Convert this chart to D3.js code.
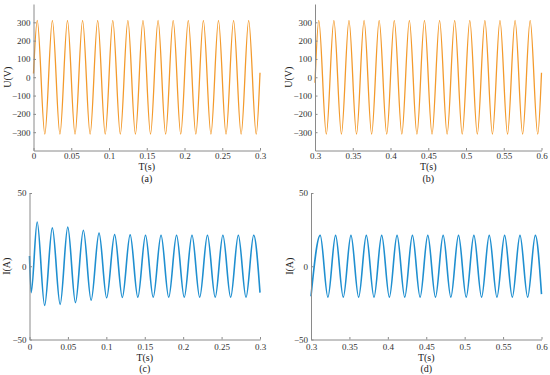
<!DOCTYPE html>
<html>
<head>
<meta charset="utf-8">
<script src="https://cdn.jsdelivr.net/npm/d3@7"></script>
<style>
  body { margin: 0; background: #fff; }
  svg { display: block; font-family: "Liberation Serif", "Times New Roman", serif; }
  .axis path, .axis line { stroke: #8a8a8a; }
  .axis text { fill: #333; font-size: 9px; font-family: "Liberation Serif", serif; }
  .lbl { fill: #222; font-size: 10px; }
</style>
</head>
<body>
<svg id="chart" width="550" height="375"></svg>
<script>
// voltage extrema (s, V) (a) and (b)
const uTimeA = [0, 0.005, 0.015, 0.025, 0.035, 0.045, 0.055, 0.065, 0.075, 0.085, 0.095, 0.105, 0.115, 0.125, 0.135, 0.145,
    0.155, 0.165, 0.175, 0.185, 0.195, 0.205, 0.215, 0.225, 0.235, 0.245, 0.255, 0.265, 0.275, 0.285, 0.295, 0.3];
const uValA = [20, 311, -311, 311, -311, 311, -311, 311, -311, 311, -311, 311, -311, 311, -311, 311,
    -311, 311, -311, 311, -311, 311, -311, 311, -311, 311, -311, 311, -311, 311, -311, 25];
const uTimeB = [0.3, 0.305, 0.315, 0.325, 0.335, 0.345, 0.355, 0.365, 0.375, 0.385, 0.395, 0.405, 0.415, 0.425, 0.435, 0.445,
    0.455, 0.465, 0.475, 0.485, 0.495, 0.505, 0.515, 0.525, 0.535, 0.545, 0.555, 0.565, 0.575, 0.585, 0.595, 0.6];
const uValB = [-30, 311, -311, 311, -311, 311, -311, 311, -311, 311, -311, 311, -311, 311, -311, 311,
    -311, 311, -311, 311, -311, 311, -311, 311, -311, 311, -311, 311, -311, 311, -311, 25];

// current extrema (s, A) (c) and (d)
const iTimeC = [0, 0.0022, 0.010, 0.0197, 0.0297, 0.0399, 0.0498, 0.0598, 0.0701, 0.0802, 0.0905, 0.1004, 0.1108, 0.1208, 0.131, 0.141,
    0.151, 0.161, 0.1712, 0.1812, 0.1914, 0.2014, 0.2115, 0.2215, 0.2316, 0.2417, 0.2517, 0.2618, 0.2718, 0.2818, 0.2918, 0.3];
const iValC = [7, -18, 30.2, -26.7, 26.2, -26, 26.7, -24.8, 24.6, -23.2, 22.6, -21.6, 21.6, -21.3, 21.4, -21.2,
    21.2, -21.2, 21.2, -21.2, 21.2, -21.2, 21.2, -21.2, 21.2, -21.2, 21.2, -21.2, 21.2, -21.2, 21.2, -18];
const iTimeD = [0.3, 0.312, 0.322, 0.332, 0.342, 0.352, 0.362, 0.372, 0.382, 0.392, 0.402, 0.412, 0.422, 0.432, 0.442, 0.452,
    0.462, 0.472, 0.482, 0.492, 0.502, 0.512, 0.522, 0.532, 0.542, 0.552, 0.562, 0.572, 0.582, 0.592, 0.6];
const iValD = [-20.5, 21.1, -21.1, 21.1, -21.1, 21.1, -21.1, 21.1, -21.1, 21.1, -21.1, 21.1, -21.1, 21.1, -21.1, 21.1,
    -21.1, 21.1, -21.1, 21.1, -21.1, 21.1, -21.1, 21.1, -21.1, 21.1, -21.1, 21.1, -21.1, 21.1, -19];

// ticks
const tTicksA = [0, 0.05, 0.1, 0.15, 0.2, 0.25, 0.3];
const tTicksB = [0.3, 0.35, 0.4, 0.45, 0.5, 0.55, 0.6];
const uTicks = [-300, -200, -100, 0, 100, 200, 300];
const iTicks = [-50, 0, 50];

const ORANGE = "#f39a2c";
const BLUE = "#1f8fd0";

// layout: plot box, then centre rows of tick labels / T(s) / tag below the axis
const panels = [
    { t: uTimeA, v: uValA, xd: [0, 0.3], yd: [-400, 400], xt: tTicksA, yt: uTicks, ylab: "U(V)", tag: "(a)", color: ORANGE,
      x0: 33.5, x1: 260, y0: 4, y1: 150.5, ylx: 7, tickY: 155.5, labY: 166.5, tagY: 178.5, lw: 1.3 },
    { t: uTimeB, v: uValB, xd: [0.3, 0.6], yd: [-400, 400], xt: tTicksB, yt: uTicks, ylab: "U(V)", tag: "(b)", color: ORANGE,
      x0: 315, x1: 541.5, y0: 4, y1: 150.5, ylx: 288, tickY: 155.5, labY: 166.5, tagY: 178.5, lw: 1.3 },
    { t: iTimeC, v: iValC, xd: [0, 0.3], yd: [-50, 50], xt: tTicksA, yt: iTicks, ylab: "I(A)", tag: "(c)", color: BLUE,
      x0: 29.5, x1: 260, y0: 193, y1: 339.5, ylx: 6, tickY: 347, labY: 357.5, tagY: 368.5, lw: 1.6 },
    { t: iTimeD, v: iValD, xd: [0.3, 0.6], yd: [-50, 50], xt: tTicksB, yt: iTicks, ylab: "I(A)", tag: "(d)", color: BLUE,
      x0: 311, x1: 541.5, y0: 193, y1: 339.5, ylx: 289, tickY: 347, labY: 357.5, tagY: 368.5, lw: 1.6 }
];

const svg = d3.select("#chart");
const fmtX = d => String(+d.toFixed(2));
const fmtY = d => (d < 0 ? "\u2212" + Math.abs(d) : String(d));

panels.forEach(p => {
    const x = d3.scaleLinear().domain(p.xd).range([p.x0, p.x1]);
    const y = d3.scaleLinear().domain(p.yd).range([p.y1, p.y0]);
    const g = svg.append("g");

    const pts = p.t.map((t, i) => [t, p.v[i]]);
    g.append("path")
        .datum(pts)
        .attr("fill", "none")
        .attr("stroke", p.color)
        .attr("stroke-width", p.lw)
        .attr("d", d3.line().x(d => x(d[0])).y(d => y(d[1])).curve(d3.curveMonotoneX));

    g.append("g")
        .attr("class", "axis")
        .attr("transform", `translate(0,${p.y1})`)
        .call(d3.axisBottom(x).tickValues(p.xt).tickFormat(fmtX).tickSizeInner(-2.5).tickSizeOuter(0))
        .call(a => a.selectAll("text").attr("y", p.tickY - p.y1).attr("dy", "0.35em"));

    g.append("g")
        .attr("class", "axis")
        .attr("transform", `translate(${p.x0},0)`)
        .call(d3.axisLeft(y).tickValues(p.yt).tickFormat(fmtY).tickSizeInner(-2.5).tickSizeOuter(0).tickPadding(3));

    const cx = (p.x0 + p.x1) / 2;
    g.append("text").attr("class", "lbl")
        .attr("x", cx).attr("y", p.labY).attr("dy", "0.35em")
        .attr("text-anchor", "middle").text("T(s)");
    g.append("text").attr("class", "lbl")
        .attr("x", cx).attr("y", p.tagY).attr("dy", "0.35em")
        .attr("text-anchor", "middle").text(p.tag);
    g.append("text").attr("class", "lbl")
        .attr("transform", `translate(${p.ylx},${(p.y0 + p.y1) / 2}) rotate(-90)`)
        .attr("text-anchor", "middle").attr("dy", "0.35em").text(p.ylab);
});
</script>
</body>
</html>
